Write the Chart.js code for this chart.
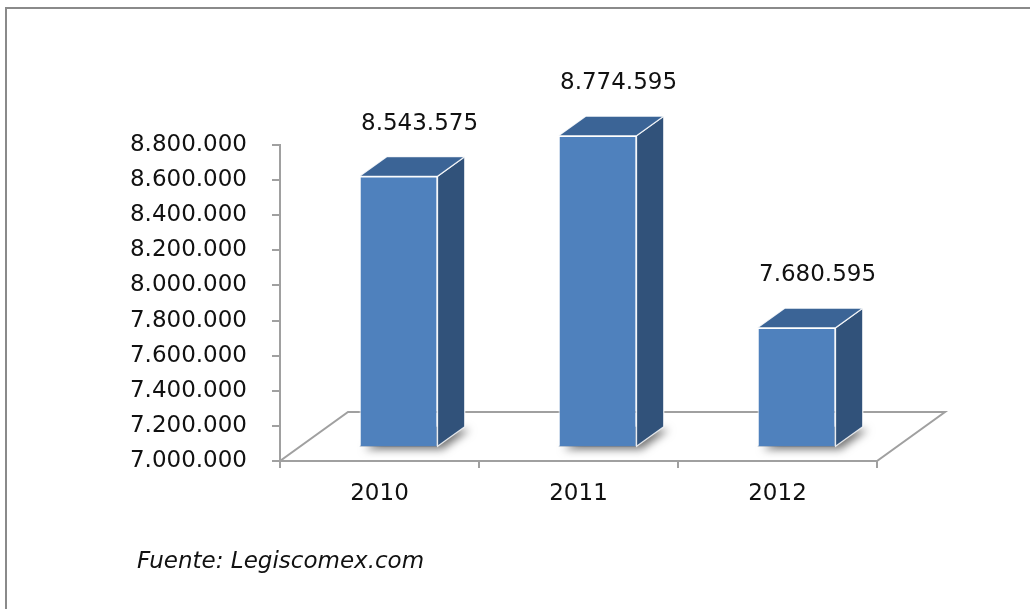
<!DOCTYPE html>
<html>
<head>
    <title>Importaciones 2010 - 2012</title>
    <style>
        body {
            margin: 0;
            background-color: #fff;
            overflow: hidden;
        }

        #wrap {
            position: relative;
            width: 1030px;
            height: 609px;
            overflow: hidden;
        }

        #frame {
            position: absolute;
            left: 5px;
            top: 7px;
            width: 1200px;
            height: 800px;
            border-left: 2px solid #8a8a8a;
            border-top: 2px solid #8a8a8a;
        }

        #chart {
            position: absolute;
            left: 0;
            top: 0;
        }
    </style>
    <script src="https://cdn.jsdelivr.net/npm/chart.js"></script>
</head>
<body>
    <div id="wrap">
        <div id="frame"></div>
        <canvas id="chart" width="1030" height="609"></canvas>
    </div>
    <script>
        var years = ['2010', '2011', '2012'];
        var valores = [8543575, 8774595, 7680595];
        var yMin = 7000000;
        var yMax = 8800000;
        var yStep = 200000;
        var fuente = 'Fuente: Legiscomex.com';

        var FONT = 'DejaVu Sans, Verdana, sans-serif';

        function puntos(v) {
            return String(v).replace(/\B(?=(\d{3})+(?!\d))/g, '.');
        }

        // depth of the floor and where the bars sit inside it
        var depth = { dx: 68, dy: -49 };
        var frontPos = 0.28;
        var barDepth = 0.4;

        var bars3d = {
            id: 'bars3d',
            beforeDatasetsDraw: function(chart) {
                var ctx = chart.ctx;
                var a = chart.chartArea;
                var ox = depth.dx * frontPos, oy = depth.dy * frontPos;
                var bx = depth.dx * barDepth, by = depth.dy * barDepth;

                // floor
                ctx.save();
                ctx.beginPath();
                ctx.moveTo(a.left, a.bottom);
                ctx.lineTo(a.right, a.bottom);
                ctx.lineTo(a.right + depth.dx, a.bottom + depth.dy);
                ctx.lineTo(a.left + depth.dx, a.bottom + depth.dy);
                ctx.closePath();
                ctx.fillStyle = '#fff';
                ctx.fill();
                ctx.strokeStyle = '#a0a0a0';
                ctx.lineWidth = 2;
                ctx.stroke();
                ctx.restore();

                var meta = chart.getDatasetMeta(0);
                meta.data.forEach(function(el) {
                    var w = el.width;
                    var x0 = el.x - w / 2 + ox, x1 = el.x + w / 2 + ox;
                    var top = el.y + oy, bot = el.base + oy;

                    // shadow on the floor
                    ctx.save();
                    ctx.shadowColor = 'rgba(0,0,0,0.55)';
                    ctx.shadowBlur = 9;
                    ctx.shadowOffsetX = 5;
                    ctx.shadowOffsetY = 3;
                    ctx.beginPath();
                    ctx.moveTo(x0, bot);
                    ctx.lineTo(x1, bot);
                    ctx.lineTo(x1 + bx, bot + by);
                    ctx.lineTo(x0 + bx, bot + by);
                    ctx.closePath();
                    ctx.fillStyle = '#30527a';
                    ctx.fill();
                    ctx.restore();

                    ctx.save();
                    ctx.strokeStyle = 'rgba(255,255,255,0.85)';
                    ctx.lineWidth = 1.2;
                    // side
                    ctx.beginPath();
                    ctx.moveTo(x1, top);
                    ctx.lineTo(x1 + bx, top + by);
                    ctx.lineTo(x1 + bx, bot + by);
                    ctx.lineTo(x1, bot);
                    ctx.closePath();
                    ctx.fillStyle = '#31527a';
                    ctx.fill();
                    ctx.stroke();
                    // top
                    ctx.beginPath();
                    ctx.moveTo(x0, top);
                    ctx.lineTo(x1, top);
                    ctx.lineTo(x1 + bx, top + by);
                    ctx.lineTo(x0 + bx, top + by);
                    ctx.closePath();
                    ctx.fillStyle = '#3b6496';
                    ctx.fill();
                    ctx.stroke();
                    ctx.restore();
                });

                // front faces are drawn by Chart.js, pushed back into the floor
                ctx.save();
                ctx.translate(ox, oy);
            },
            afterDatasetsDraw: function(chart) {
                var ctx = chart.ctx;
                ctx.restore();

                var ox = depth.dx * frontPos;
                var meta = chart.getDatasetMeta(0);
                ctx.save();
                ctx.font = '23px ' + FONT;
                ctx.fillStyle = '#111';
                ctx.textAlign = 'center';
                ctx.textBaseline = 'middle';
                meta.data.forEach(function(el, i) {
                    var topBack = el.y + depth.dy * (frontPos + barDepth);
                    ctx.fillText(puntos(valores[i]), el.x + ox + 21, topBack - 33);
                });

                ctx.font = 'italic 23px ' + FONT;
                ctx.textAlign = 'left';
                ctx.textBaseline = 'alphabetic';
                ctx.fillText(fuente, 137, 568);
                ctx.restore();
            }
        };

        new Chart(document.getElementById('chart'), {
            type: 'bar',
            data: {
                labels: years,
                datasets: [{
                    data: valores,
                    base: yMin,
                    backgroundColor: '#4f81bd',
                    borderColor: 'rgba(255,255,255,0.85)',
                    borderWidth: 1.2,
                    categoryPercentage: 1,
                    barPercentage: 0.392,
                    clip: false
                }]
            },
            options: {
                responsive: false,
                devicePixelRatio: 1,
                animation: false,
                layout: {
                    padding: { left: 0, right: 153, top: 145, bottom: 0 }
                },
                plugins: {
                    legend: { display: false },
                    tooltip: { enabled: false }
                },
                scales: {
                    x: {
                        afterFit: function(scale) { scale.height = 148; },
                        grid: {
                            offset: true,
                            drawOnChartArea: false,
                            tickLength: 7,
                            color: '#a0a0a0',
                            lineWidth: 2
                        },
                        border: { color: '#a0a0a0', width: 2 },
                        ticks: {
                            color: '#111',
                            padding: 12,
                            font: { family: FONT, size: 23 }
                        }
                    },
                    y: {
                        min: yMin,
                        max: yMax,
                        afterFit: function(scale) { scale.width = 280; },
                        grid: {
                            drawOnChartArea: false,
                            tickLength: 8,
                            color: '#a0a0a0',
                            lineWidth: 2
                        },
                        border: { color: '#a0a0a0', width: 2 },
                        ticks: {
                            stepSize: yStep,
                            color: '#111',
                            padding: 25,
                            font: { family: FONT, size: 23 },
                            callback: function(v) { return puntos(v); }
                        }
                    }
                }
            },
            plugins: [bars3d]
        });
    </script>
</body>
</html>
